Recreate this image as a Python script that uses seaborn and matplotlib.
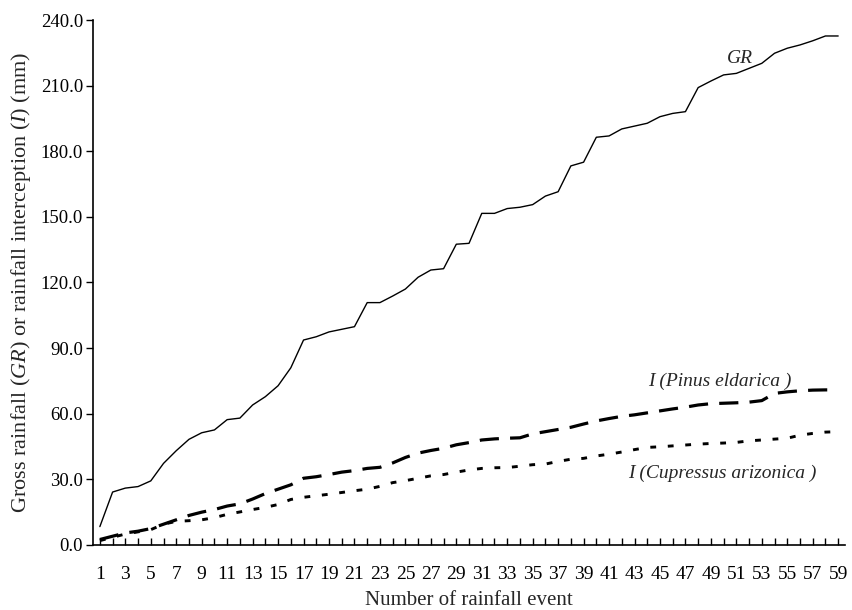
import numpy as np
import pandas as pd
import matplotlib
matplotlib.use("Agg")
import matplotlib.pyplot as plt
import seaborn as sns
from matplotlib.ticker import FuncFormatter, MultipleLocator

events = list(range(1, 60))

gross_rainfall = [8.4, 24.2, 26.0, 26.7, 29.3, 37.3, 43.1, 48.3, 51.3, 52.6,
                  57.3, 58.0, 64.0, 67.8, 72.8, 81.0, 93.7, 95.2, 97.4, 98.6,
                  99.8, 110.8, 110.8, 113.8, 117.0, 122.4, 125.7, 126.3, 137.5, 137.9,
                  151.6, 151.6, 153.8, 154.4, 155.6, 159.5, 161.5, 173.3, 175.0, 186.4,
                  187.0, 190.2, 191.5, 192.8, 195.8, 197.3, 198.1, 209.1, 212.1, 214.9,
                  215.6, 217.9, 220.2, 224.8, 227.1, 228.6, 230.5, 232.7, 232.7]

i_pinus = [2.5, 4.0, 5.5, 6.3, 7.5, 9.5, 11.5, 13.5, 15.0, 16.2,
           17.8, 18.8, 21.0, 23.5, 25.5, 27.5, 30.5, 31.2, 32.2, 33.3,
           34.0, 35.0, 35.5, 37.5, 40.0, 42.0, 43.2, 44.2, 45.8, 46.8,
           48.0, 48.5, 48.8, 49.0, 50.8, 51.8, 52.8, 53.8, 55.3, 56.7,
           57.8, 58.8, 59.5, 60.4, 61.3, 62.2, 63.0, 64.0, 64.6, 64.8,
           65.0, 65.3, 66.0, 69.3, 70.0, 70.5, 70.8, 70.9, 70.9]

i_cupressus = [2.0, 3.5, 5.0, 6.0, 7.0, 9.5, 10.8, 11.1, 11.5, 12.5,
               14.0, 15.1, 16.2, 17.2, 18.5, 20.8, 21.8, 22.5, 23.2, 24.0,
               24.8, 25.5, 26.8, 28.5, 29.4, 30.5, 31.6, 32.2, 33.3, 34.3,
               35.0, 35.3, 35.4, 36.0, 36.7, 37.0, 38.2, 39.2, 39.6, 40.7,
               41.5, 42.5, 43.6, 44.6, 44.9, 45.3, 45.7, 46.1, 46.4, 46.6,
               46.9, 47.6, 48.0, 48.4, 48.8, 50.2, 51.0, 51.6, 51.8]

x_label = "Number of rainfall event"
y_label = r"Gross rainfall ($\mathit{GR}$) or rainfall interception ($\mathit{I}$) (mm)"

sns.set_style("ticks")
plt.rcParams["font.family"] = ["Liberation Serif", "DejaVu Serif"]
plt.rcParams["mathtext.fontset"] = "custom"
plt.rcParams["mathtext.rm"] = "Liberation Serif"
plt.rcParams["mathtext.it"] = "Liberation Serif:italic"

df = pd.DataFrame({"event": events, "GR": gross_rainfall,
                   "Pinus": i_pinus, "Cupressus": i_cupressus})

fig = plt.figure(figsize=(8.52, 6.10), dpi=100)
ax = fig.add_axes([0.109, 0.1066, 0.883, 0.8606])

sns.lineplot(data=df, x="event", y="GR", ax=ax, color="black", linewidth=1.0)
sns.lineplot(data=df, x="event", y="Pinus", ax=ax, color="black", linewidth=2.3)
ax.lines[-1].set_dashes((6, 3.5))
sns.lineplot(data=df, x="event", y="Cupressus", ax=ax, color="black", linewidth=2.1)
ax.lines[-1].set_dashes((2, 4))

ax.set_xlim(0.45, 59.55)
ax.set_ylim(0, 240)
sns.despine(ax=ax)
for s in ["left", "bottom"]:
    ax.spines[s].set_linewidth(1.2)
    ax.spines[s].set_color("black")

ax.set_xticks(list(range(1, 60, 2)))
ax.set_xticks(list(range(2, 60, 2)), minor=True)
ax.tick_params(axis="x", which="both", direction="in", length=5, width=1,
               pad=15, labelsize=14, colors="black")
ax.yaxis.set_major_locator(MultipleLocator(30))
ax.yaxis.set_major_formatter(FuncFormatter(lambda v, p: f"{v:.1f}"))
ax.tick_params(axis="y", direction="out", length=5, width=1, pad=2,
               labelsize=13.5, colors="black")

ax.set_xlabel(x_label, fontsize=15, labelpad=6)
ax.set_ylabel(y_label, fontsize=16, labelpad=6)

ax.text(51.3, 222.5, "GR", fontstyle="italic", fontsize=14, ha="center", va="center")
ax.text(49.7, 74.7, "I (Pinus eldarica )", fontstyle="italic", fontsize=14,
        ha="center", va="center")
ax.text(49.9, 32.8, "I (Cupressus arizonica )", fontstyle="italic", fontsize=14,
        ha="center", va="center")

fig.savefig("out.png", dpi=100)
